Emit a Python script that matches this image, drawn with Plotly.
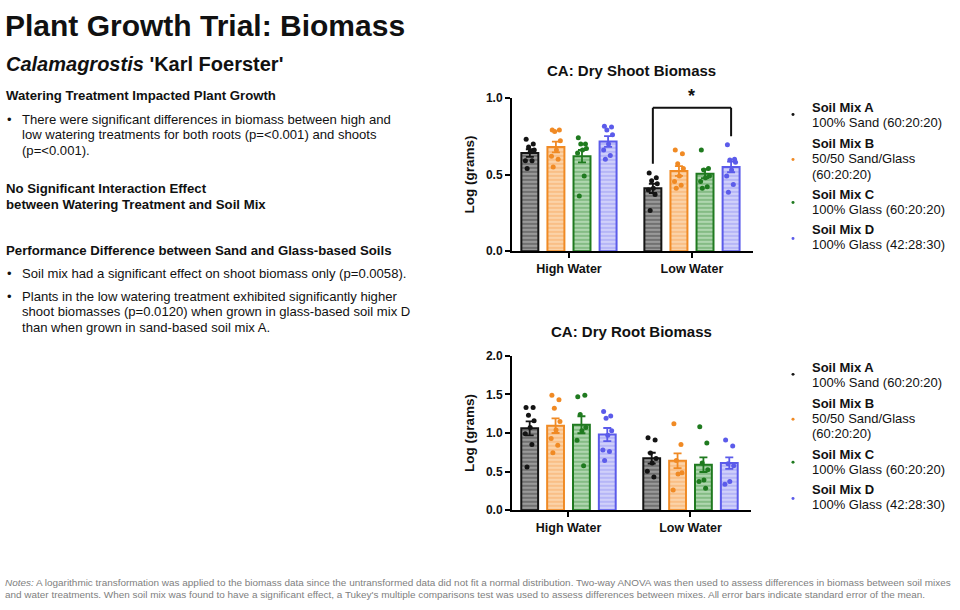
import plotly.graph_objects as go

# ---------------- data ----------------
groups = ["High Water", "Low Water"]
mixes = ["Soil Mix A", "Soil Mix B", "Soil Mix C", "Soil Mix D"]
mix_desc = [["100% Sand (60:20:20)"], ["50/50 Sand/Glass", "(60:20:20)"],
            ["100% Glass (60:20:20)"], ["100% Glass (42:28:30)"]]
shoot_ticks = [0.0, 0.5, 1.0]
root_ticks = [0.0, 0.5, 1.0, 1.5, 2.0]

# shoot biomass (log grams) - individual plants
shoot_high_A = [0.73, 0.70, 0.68, 0.66, 0.65, 0.59, 0.59, 0.54]
shoot_high_B = [0.79, 0.79, 0.78, 0.72, 0.66, 0.62, 0.60, 0.55]
shoot_high_C = [0.74, 0.70, 0.70, 0.67, 0.66, 0.64, 0.49, 0.36]
shoot_high_D = [0.815, 0.81, 0.79, 0.76, 0.70, 0.66, 0.625, 0.60]
shoot_low_A = [0.51, 0.48, 0.46, 0.44, 0.41, 0.40, 0.37, 0.265]
shoot_low_B = [0.66, 0.635, 0.57, 0.54, 0.49, 0.455, 0.43, 0.41]
shoot_low_C = [0.66, 0.54, 0.53, 0.49, 0.48, 0.455, 0.42, 0.41]
shoot_low_D = [0.695, 0.60, 0.595, 0.58, 0.53, 0.49, 0.435, 0.385]
shoot_mean = [[0.64, 0.68, 0.62, 0.715], [0.41, 0.523, 0.505, 0.55]]
shoot_sem = [[0.025, 0.035, 0.04, 0.035], [0.03, 0.032, 0.028, 0.035]]

# root biomass (log grams)
root_high_A = [1.33, 1.33, 1.23, 1.16, 1.07, 0.99, 0.85, 0.56]
root_high_B = [1.49, 1.43, 1.32, 1.15, 1.04, 0.93, 0.84, 0.745]
root_high_C = [1.47, 1.49, 1.24, 1.07, 1.03, 0.905, 0.577]
root_high_D = [1.28, 1.22, 1.19, 1.03, 0.97, 0.78, 0.76, 0.645]
root_low_A = [0.94, 0.91, 0.74, 0.67, 0.61, 0.505, 0.43]
root_low_B = [1.12, 0.85, 0.645, 0.485, 0.47, 0.26]
root_low_C = [1.08, 0.87, 0.61, 0.525, 0.39, 0.37, 0.285]
root_low_D = [0.91, 0.83, 0.60, 0.577, 0.37, 0.337]
root_mean = [[1.06, 1.095, 1.107, 0.98], [0.674, 0.64, 0.59, 0.61]]
root_sem = [[0.09, 0.095, 0.11, 0.085], [0.07, 0.095, 0.095, 0.075]]

shoot_pts = [[shoot_high_A, shoot_high_B, shoot_high_C, shoot_high_D],
             [shoot_low_A, shoot_low_B, shoot_low_C, shoot_low_D]]
root_pts = [[root_high_A, root_high_B, root_high_C, root_high_D],
            [root_low_A, root_low_B, root_low_C, root_low_D]]

# ---------------- style ----------------
FONT = "Liberation Sans, Arial, sans-serif"
edge = ["#141414", "#f08a24", "#1f7a1f", "#5b5bea"]
stripe_fg = ["rgba(45,45,45,0.85)", "rgba(245,150,70,0.75)", "rgba(40,130,40,0.7)", "rgba(110,110,240,0.6)"]
stripe_bg = ["#999999", "#fbd3a8", "#afd6af", "#d0d0fa"]
offsets = [-0.318, -0.106, 0.106, 0.318]
bw = 0.138
jit = [-0.03, 0.028, -0.01, 0.036, 0.004, -0.036, 0.018, -0.022]

fig = go.Figure()

def add_panel(pts, means, sems, xa, ya):
    for i in range(4):
        xs = [g + offsets[i] for g in range(2)]
        fig.add_trace(go.Bar(
            x=xs, y=[means[0][i], means[1][i]], width=bw,
            marker=dict(color=stripe_bg[i], line=dict(color=edge[i], width=2),
                        pattern=dict(shape="-", fgcolor=stripe_fg[i], bgcolor=stripe_bg[i],
                                     size=4, solidity=0.45, fillmode="overlay")),
            error_y=dict(type="data", array=[sems[0][i], sems[1][i]], color=edge[i],
                         thickness=1.8, width=4),
            xaxis=xa, yaxis=ya, showlegend=False, hoverinfo="skip"))
        px, py = [], []
        for g in range(2):
            for k, v in enumerate(pts[g][i]):
                px.append(g + offsets[i] + jit[k % len(jit)])
                py.append(v)
        fig.add_trace(go.Scatter(x=px, y=py, mode="markers",
                                 marker=dict(color=edge[i], size=5),
                                 xaxis=xa, yaxis=ya, showlegend=False, hoverinfo="skip",
                                 cliponaxis=False))

add_panel(shoot_pts, shoot_mean, shoot_sem, "x", "y")
add_panel(root_pts, root_mean, root_sem, "x2", "y2")

W, H = 960, 610
def px2x(p): return p / W
def px2y(p): return 1 - p / H

xcommon = dict(range=[-0.463, 1.496], tickvals=[0, 1],
               ticktext=["<b>%s</b>" % g for g in groups],
               showline=True, linecolor="black", linewidth=2, ticks="outside",
               ticklen=5, tickwidth=2, tickcolor="black", showgrid=False, zeroline=False,
               tickfont=dict(family=FONT, size=12.5, color="#111"), fixedrange=True)
ycommon = dict(showline=True, linecolor="black", linewidth=2, ticks="outside",
               ticklen=5, tickwidth=2, tickcolor="black", showgrid=False, zeroline=False,
               tickfont=dict(family=FONT, size=12, color="#111"),
               title=dict(text="<b>Log (grams)</b>", font=dict(family=FONT, size=13.5, color="#111"), standoff=8))

fig.update_layout(
    width=W, height=H, margin=dict(l=0, r=0, t=0, b=0),
    paper_bgcolor="white", plot_bgcolor="white", barmode="overlay",
    xaxis=dict(domain=[px2x(512), px2x(753)], anchor="y", **xcommon),
    yaxis=dict(domain=[px2y(250), px2y(93)], anchor="x", range=[0, 1.0],
               tickvals=shoot_ticks, ticktext=["<b>%.1f</b>" % t for t in shoot_ticks], **ycommon),
    xaxis2=dict(domain=[px2x(512), px2x(751)], anchor="y2", **xcommon),
    yaxis2=dict(domain=[px2y(515), px2y(357)], anchor="x2", range=[0, 2.0],
                tickvals=root_ticks, ticktext=["<b>%.1f</b>" % t for t in root_ticks], **ycommon),
    font=dict(family=FONT, color="#111"),
)

# significance bracket
bx0, bx1 = 1 + offsets[0], 1 + offsets[3]
for (x0, y0, x1, y1) in [(bx0, 0.57, bx0, 0.935), (bx0, 0.935, bx1, 0.935), (bx1, 0.935, bx1, 0.75)]:
    fig.add_shape(type="line", xref="x", yref="y", x0=x0, y0=y0, x1=x1, y1=y1,
                  line=dict(color="#111", width=2))
fig.add_annotation(x=1, y=0.935, xref="x", yref="y", text="<b>*</b>", showarrow=False,
                   yanchor="bottom", yshift=0, font=dict(family=FONT, size=18, color="#111"))

def text(x, y, s, size, bold=False, italic=False, color="#111", anchor="left"):
    if bold: s = "<b>" + s + "</b>"
    if italic: s = "<i>" + s + "</i>"
    fig.add_annotation(x=px2x(x), y=px2y(y), xref="paper", yref="paper", text=s,
                       showarrow=False, xanchor=anchor, yanchor="middle",
                       font=dict(family=FONT, size=size, color=color))

# panel titles
text(631, 65, "CA: Dry Shoot Biomass", 15, bold=True, anchor="center")
text(631, 332, "CA: Dry Root Biomass", 15, bold=True, anchor="center")

# legends
def legend(base):
    label_y = [103, 140, 192, 228]
    dot_y = [110, 156, 200, 237]
    for i in range(4):
        fig.add_shape(type="circle", xref="paper", yref="paper",
                      x0=px2x(791.5), x1=px2x(794.5), y0=px2y(base + dot_y[i] + 1.5), y1=px2y(base + dot_y[i] - 1.5),
                      fillcolor=edge[i], line=dict(width=0))
        text(810, base + label_y[i], mixes[i], 13, bold=True)
        for j, d in enumerate(mix_desc[i]):
            text(810, base + label_y[i] + 15.5 * (j + 1), d, 13)

legend(0)
legend(266)

# left text panel
text(3, 19, "Plant Growth Trial: Biomass", 30, bold=True)
text(4, 58, "<b><i>Calamagrostis</i> 'Karl Foerster'</b>", 20)
text(4, 91, "Watering Treatment Impacted Plant Growth", 13.2, bold=True)
text(5, 115, "•", 13)
text(20, 115, "There were significant differences in biomass between high and", 13.1)
text(20, 131, "low watering treatments for both roots (p=<0.001) and shoots", 13.1)
text(20, 147, "(p=<0.001).", 13.1)
text(4, 186, "No Significant Interaction Effect", 13.2, bold=True)
text(4, 202, "between Watering Treatment and Soil Mix", 13.2, bold=True)
text(4, 249, "Performance Difference between Sand and Glass-based Soils", 13.2, bold=True)
text(5, 273, "•", 13)
text(20, 273, "Soil mix had a significant effect on shoot biomass only (p=0.0058).", 13.1)
text(5, 296, "•", 13)
text(20, 296, "Plants in the low watering treatment exhibited significantly higher", 13.1)
text(20, 312, "shoot biomasses (p=0.0120) when grown in glass-based soil mix D", 13.1)
text(20, 328, "than when grown in sand-based soil mix A.", 13.1)

# notes
text(3, 589, "<i>Notes:</i> A logarithmic transformation was applied to the biomass data since the untransformed data did not fit a normal distribution. Two-way ANOVA was then used to assess differences in biomass between soil mixes", 9.95, color="#808080")
text(3, 601, "and water treatments. When soil mix was found to have a significant effect, a Tukey's multiple comparisons test was used to assess differences between mixes. All error bars indicate standard error of the mean.", 9.95, color="#808080")

fig.write_html("out.html")
